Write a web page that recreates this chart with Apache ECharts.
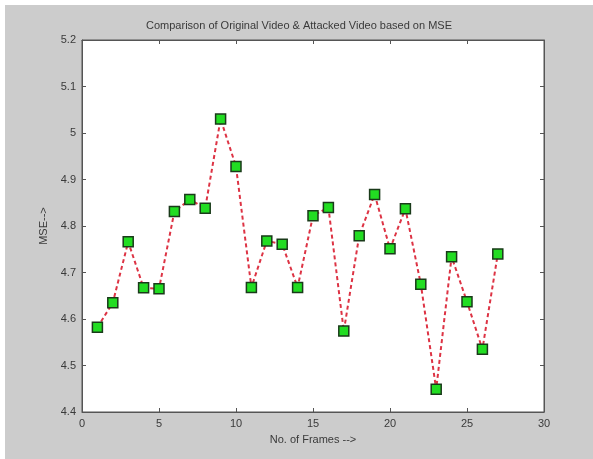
<!DOCTYPE html>
<html>
<head>
<meta charset="utf-8">
<script src="https://cdn.jsdelivr.net/npm/echarts@6/dist/echarts.min.js"></script>
<style>
  html, body { margin: 0; padding: 0; background: #ffffff; }
  #chart { position: absolute; left: 5px; top: 5px; width: 588px; height: 454px; }
</style>
</head>
<body>
<div id="chart"></div>
<script>
// frame numbers and MSE values
const frames = [1, 2, 3, 4, 5, 6, 7, 8, 9, 10, 11, 12, 13, 14, 15, 16, 17, 18, 19, 20, 21, 22, 23, 24, 25, 26, 27]
const mse = [4.582, 4.635, 4.766, 4.667, 4.665, 4.831, 4.857, 4.838, 5.030, 4.928,
    4.668, 4.768, 4.761, 4.668, 4.822, 4.840, 4.574, 4.779, 4.868, 4.751,
    4.837, 4.675, 4.449, 4.734, 4.637, 4.535, 4.740]
const xTicks = [0, 5, 10, 15, 20, 25, 30]
const yTicks = [4.4, 4.5, 4.6, 4.7, 4.8, 4.9, 5, 5.1, 5.2]

const points = frames.map((f, i) => [f, mse[i]])

const font = 'Liberation Sans, Arial, sans-serif'
const txt = '#3a3a3a'

const chart = echarts.init(document.getElementById('chart'))

// shared look for the box-style axes (ticks inside on all four sides)
const boxAxis = {
    axisLine: { show: true, onZero: false, lineStyle: { color: '#555', width: 1 } },
    axisTick: { show: true, inside: true, length: 4, lineStyle: { color: '#555' } },
    splitLine: { show: false }
}

chart.setOption({
    backgroundColor: '#cccccc',
    animation: false,
    title: {
        text: 'Comparison of Original Video & Attacked Video based on MSE',
        left: 'center',
        top: 10,
        textStyle: { fontFamily: font, fontSize: 11, fontWeight: 'normal', color: txt }
    },
    grid: {
        left: 77, right: 49, top: 35, bottom: 47,
        show: true, backgroundColor: '#ffffff', borderColor: '#555', borderWidth: 1
    },
    xAxis: [
        Object.assign({
            type: 'value', min: xTicks[0], max: xTicks[xTicks.length - 1], interval: 5,
            name: 'No. of Frames -->', nameLocation: 'middle', nameGap: 22,
            nameTextStyle: { fontFamily: font, fontSize: 11, color: txt },
            axisLabel: { fontFamily: font, fontSize: 11, color: txt, margin: 6 }
        }, boxAxis),
        Object.assign({
            type: 'value', position: 'top', min: xTicks[0], max: xTicks[xTicks.length - 1], interval: 5,
            axisLabel: { show: false }
        }, boxAxis)
    ],
    yAxis: [
        Object.assign({
            type: 'value', min: yTicks[0], max: yTicks[yTicks.length - 1], interval: 0.1,
            name: 'MSE-->', nameLocation: 'middle', nameGap: 30,
            nameTextStyle: { fontFamily: font, fontSize: 11, color: txt },
            axisLabel: {
                fontFamily: font, fontSize: 11, color: txt, margin: 6,
                formatter: v => String(Math.round(v * 10) / 10)
            }
        }, boxAxis),
        Object.assign({
            type: 'value', position: 'right', min: yTicks[0], max: yTicks[yTicks.length - 1], interval: 0.1,
            axisLabel: { show: false }
        }, boxAxis)
    ],
    series: [
        {
            type: 'line',
            data: points,
            symbol: 'rect',
            symbolSize: 10,
            itemStyle: { color: '#22dd22', borderColor: '#1a3a1a', borderWidth: 1.5 },
            lineStyle: { color: '#dd3344', width: 2, type: [4, 3] },
            z: 3
        }
    ]
})
</script>
</body>
</html>
